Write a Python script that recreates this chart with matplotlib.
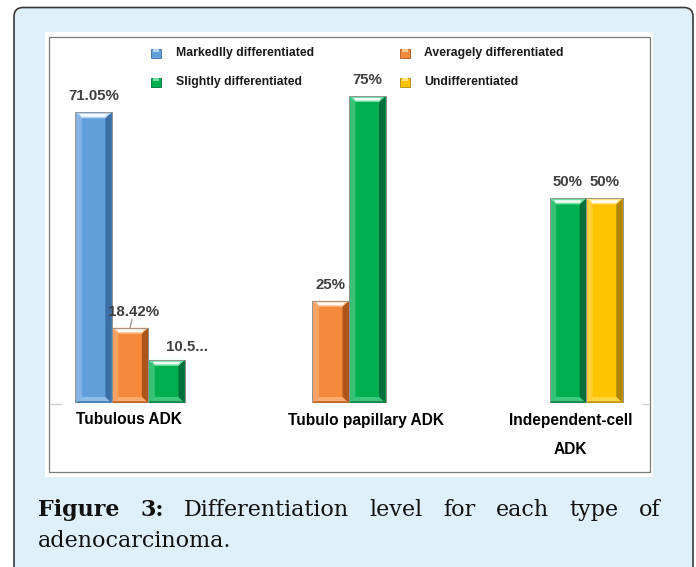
import numpy as np
import matplotlib
matplotlib.use('Agg')
import matplotlib.pyplot as plt
from matplotlib.patches import FancyBboxPatch, Rectangle, Polygon
import matplotlib.transforms as mtransforms

# ---------------- data ----------------
categories = ['Tubulous ADK', 'Tubulo papillary ADK', 'Independent-cell\nADK']
series_names = ['Markedlly differentiated', 'Averagely differentiated',
                'Slightly differentiated', 'Undifferentiated']
markedly = [71.05, np.nan, np.nan]
averagely = [18.42, 25, np.nan]
slightly = [10.53, 75, 50]
undifferentiated = [np.nan, np.nan, 50]
value_labels = [['71.05%', '', ''],
                ['18.42%', '25%', ''],
                ['10.5...', '75%', '50%'],
                ['', '', '50%']]
caption_bold = ['Figure', '3:']
caption_line1 = ['Differentiation', 'level', 'for', 'each', 'type', 'of']
caption_line2 = 'adenocarcinoma.'

series = [markedly, averagely, slightly, undifferentiated]

# (face, light, dark)
styles = [('#62a0dc', '#b4d4f2', '#3a6ea4'),
          ('#f68a3c', '#fcc596', '#ad551a'),
          ('#00b050', '#6fdca2', '#00703a'),
          ('#ffc400', '#ffe27a', '#b08600')]

W, H = 696, 567
fig = plt.figure(figsize=(W / 100, H / 100), dpi=100)
fig.patch.set_facecolor('white')

# pixel transform (origin top-left)
PX = mtransforms.Affine2D().scale(1, -1).translate(0, H).scale(1 / W, 1 / H) + fig.transFigure

# outer rounded frame
fig.add_artist(FancyBboxPatch((14, 7.5), 679, 600, boxstyle='round,pad=0,rounding_size=9',
                              transform=PX, fc='#dff0fa', ec='#3a3a3a', lw=1.2, zorder=-10))
# white panel
fig.add_artist(Rectangle((45, 31.5), 608, 445.5, transform=PX, fc='white', ec='none', zorder=-9))
# inner chart border
fig.add_artist(Rectangle((49, 36.5), 601, 435, transform=PX, fc='none', ec='#7a7a7a', lw=0.9, zorder=-8))

# ---------------- axes ----------------
base_px, top_px = 403, 75.6
ax = fig.add_axes([48 / W, (H - base_px) / H, 602 / W, (base_px - top_px) / H])
ax.set_xlim(-0.5, 2.5)
ax.set_ylim(0, 80)
ax.axis('off')
ax.patch.set_alpha(0)

n = len(series)
w = 0.182
offsets = (np.arange(n) - (n - 1) / 2) * w
xs = np.arange(len(categories))

px_x = 200.7  # pixels per x unit
px_y = (base_px - top_px) / 80.0
bdx = 6.5 / px_x
bdy = 6 / px_y

for i, vals in enumerate(series):
    face, light, dark = styles[i]
    bars = ax.bar(xs + offsets[i], vals, w, color=face, edgecolor='#9c9c9c', lw=0.6, zorder=2)
    for rect, v in zip(bars.patches, vals):
        if np.isnan(v):
            continue
        x0 = rect.get_x()
        x1 = x0 + rect.get_width()
        h = rect.get_height()
        # left bevel (lighter)
        ax.add_patch(Polygon([(x0, 0), (x0, h), (x0 + bdx, h - bdy), (x0 + bdx, bdy)],
                             closed=True, fc='white', ec='none', zorder=3, alpha=0.22))
        # right bevel (darker)
        ax.add_patch(Polygon([(x1, 0), (x1, h), (x1 - bdx, h - bdy), (x1 - bdx, bdy)],
                             closed=True, fc=dark, ec='none', zorder=3))
        # bottom bevel
        ax.add_patch(Polygon([(x0, 0), (x1, 0), (x1 - bdx, bdy), (x0 + bdx, bdy)],
                             closed=True, fc=light, ec='none', zorder=3, alpha=0.55))
        ax.add_patch(Polygon([(x0, 0), (x1, 0), (x1 - bdx * 0.3, bdy * 0.3), (x0 + bdx * 0.3, bdy * 0.3)],
                             closed=True, fc=dark, ec='none', zorder=3, alpha=0.8))
        # top bevel
        ax.add_patch(Polygon([(x0, h), (x1, h), (x1 - bdx, h - bdy), (x0 + bdx, h - bdy)],
                             closed=True, fc=light, ec='none', zorder=3))
        ax.add_patch(Polygon([(x0 + bdx * 0.7, h - bdy * 0.3), (x1 - bdx * 0.7, h - bdy * 0.3),
                              (x1 - bdx * 0.95, h - bdy * 0.75), (x0 + bdx * 0.95, h - bdy * 0.75)],
                             closed=True, fc='white', ec='none', zorder=3, alpha=0.9))
        # outline
        ax.add_patch(Rectangle((x0, 0), x1 - x0, h, fc='none', ec='#8f8f8f', lw=0.6, zorder=4))

# value labels
lab_off = {(0, 0): (0, 11.5), (1, 0): (2.2, 11.5), (2, 0): (14.5, 9.5)}
for i, vals in enumerate(series):
    for j, v in enumerate(vals):
        txt = value_labels[i][j]
        if not txt or np.isnan(v):
            continue
        dxp, dyp = lab_off.get((i, j), (0, 11.5))
        ax.annotate(txt, xy=(xs[j] + offsets[i], v), xytext=(dxp, dyp),
                    textcoords='offset points', ha='center', va='center',
                    fontsize=10.8, fontweight='bold', color='#404040',
                    family='Liberation Sans', zorder=5)
# leader line for 18.42%
ax.annotate('', xy=(xs[0] + offsets[1], averagely[0]), xytext=(1.4, 6.0),
            textcoords='offset points',
            arrowprops=dict(arrowstyle='-', color='#8c8c8c', lw=0.8, shrinkA=0, shrinkB=0))

# axis stubs
ax.plot([0.003, 0.022], [-0.004, -0.004], transform=ax.transAxes, color='#d0d0d0', lw=1, clip_on=False)
ax.plot([0.988, 0.997], [-0.004, -0.004], transform=ax.transAxes, color='#d0d0d0', lw=1, clip_on=False)

# category labels
cat_off = [-19.5, 17, 21]
for j, c in enumerate(categories):
    lines = c.split('\n')
    for k, line in enumerate(lines):
        ax.annotate(line, xy=(xs[j], 0), xycoords=('data', 'axes fraction'),
                    xytext=((cat_off[j]) * 0.72, -(17 + 30 * k) * 0.72),
                    textcoords='offset points', ha='center', va='center',
                    fontsize=11.2, fontweight='bold', color='black',
                    family='Liberation Sans', annotation_clip=False)

# legend (manual)
leg_pos = [(151, 53), (400, 53), (151, 82), (400, 82)]
for i, name in enumerate(series_names):
    face, light, dark = styles[i]
    lx, ly = leg_pos[i]
    fig.add_artist(Rectangle((lx, ly - 4.5), 10, 9, transform=PX, fc=face, ec=dark, lw=0.6))
    fig.add_artist(Rectangle((lx + 2, ly - 4.5), 6, 3, transform=PX, fc=light, ec='none'))
    fig.text(lx + 24.5, ly, name, transform=PX, ha='left', va='center', fontsize=8.8,
             fontweight='bold', color='#1a1a1a', family='Liberation Sans')

# caption, justified first line
cap_kw = dict(transform=PX, fontsize=16, family='DejaVu Serif', color='#111111', va='baseline', ha='left')
r = fig.canvas.get_renderer()
words = [(wd, 'bold') for wd in caption_bold] + [(wd, 'normal') for wd in caption_line1]
tobjs = []
for wd, wt in words:
    t = fig.text(0, 515.7, wd, fontweight=wt, **cap_kw)
    tobjs.append(t)
widths = [t.get_window_extent(r).width for t in tobjs]
left, right = 38, 661
gap = (right - left - sum(widths)) / (len(words) - 1)
x = left
for t, wd in zip(tobjs, widths):
    t.set_x(x)
    x += wd + gap
fig.text(left, 546.7, caption_line2, fontweight='normal', **cap_kw)

fig.savefig('out.png', dpi=100)
